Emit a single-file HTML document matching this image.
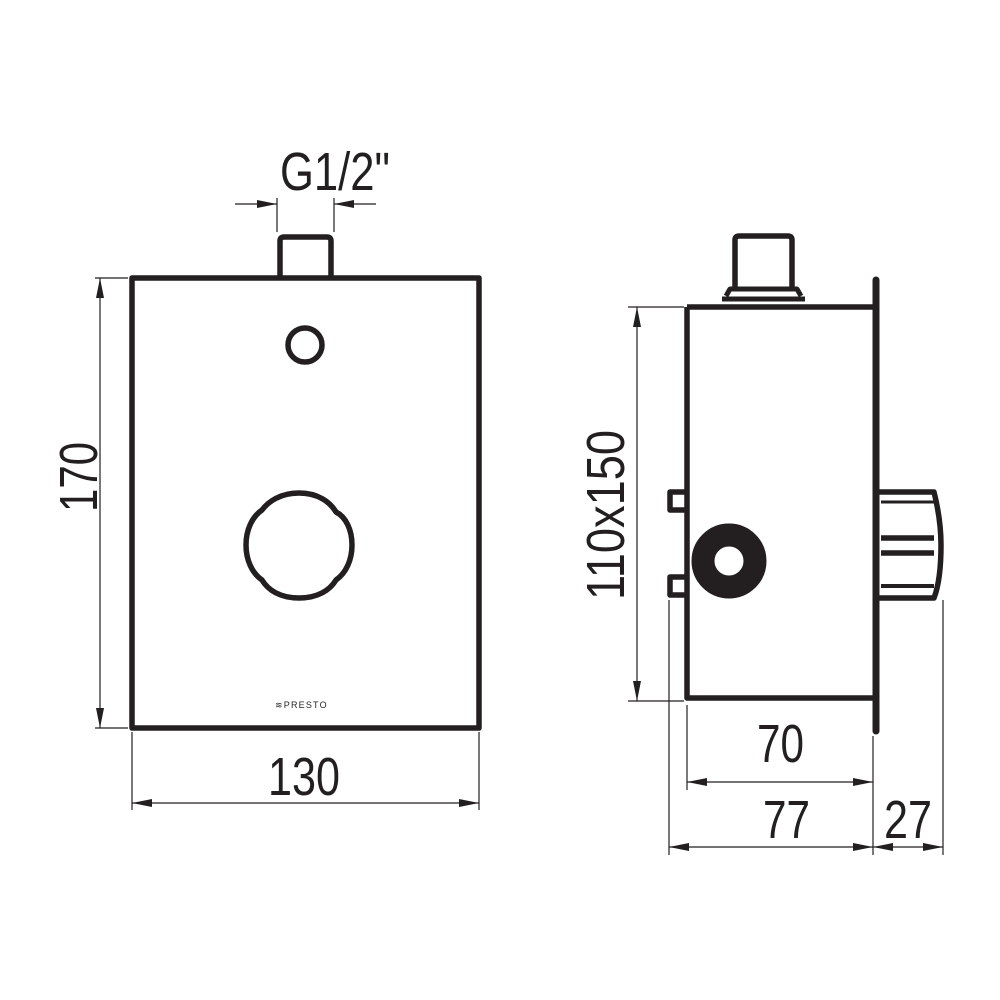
<!DOCTYPE html>
<html><head><meta charset="utf-8"><style>html,body{margin:0;padding:0;background:#fff}svg{display:block}</style></head>
<body>
<svg width="1000" height="1000" viewBox="0 0 1000 1000" xmlns="http://www.w3.org/2000/svg">
<defs>
<marker id="a" viewBox="0 0 20 8" refX="20" refY="4" markerWidth="20" markerHeight="8" markerUnits="userSpaceOnUse" orient="auto-start-reverse"><path d="M0,0 L20,4 L0,8 Z" fill="#231f20"/></marker>
</defs>
<g font-family="'Liberation Sans', sans-serif" font-size="54" fill="#231f20">
<text x="280" y="190" textLength="110" lengthAdjust="spacingAndGlyphs">G1/2"</text>
<text x="268" y="795" textLength="72" lengthAdjust="spacingAndGlyphs">130</text>
<text x="757" y="762" textLength="47" lengthAdjust="spacingAndGlyphs">70</text>
<text x="763" y="838" textLength="47" lengthAdjust="spacingAndGlyphs">77</text>
<text x="884" y="838" textLength="48" lengthAdjust="spacingAndGlyphs">27</text>
<text transform="translate(97,512) rotate(-90)" textLength="70" lengthAdjust="spacingAndGlyphs">170</text>
<text transform="translate(624,600) rotate(-90)" textLength="170" lengthAdjust="spacingAndGlyphs">110x150</text>
</g>
<g stroke="#231f20" stroke-width="1.2" fill="none">
<!-- G1/2 dim -->
<line x1="277" y1="198" x2="277" y2="232"/><line x1="334" y1="198" x2="334" y2="232"/>
<line x1="235" y1="204" x2="277" y2="204" marker-end="url(#a)"/>
<line x1="376" y1="204" x2="334" y2="204" marker-end="url(#a)"/>
<!-- 170 -->
<line x1="95" y1="278" x2="128" y2="278"/><line x1="95" y1="728" x2="128" y2="728"/>
<line x1="100" y1="278" x2="100" y2="728" marker-start="url(#a)" marker-end="url(#a)"/>
<!-- 130 -->
<line x1="132" y1="732" x2="132" y2="810"/><line x1="479" y1="732" x2="479" y2="810"/>
<line x1="132" y1="803" x2="479" y2="803" marker-start="url(#a)" marker-end="url(#a)"/>
<!-- 110x150 -->
<line x1="628" y1="307" x2="684" y2="307"/><line x1="628" y1="701" x2="684" y2="701"/>
<line x1="637" y1="307" x2="637" y2="701" marker-start="url(#a)" marker-end="url(#a)"/>
<!-- side extension -->
<line x1="669" y1="600" x2="669" y2="855"/>
<line x1="687" y1="705" x2="687" y2="790"/>
<line x1="873" y1="736" x2="873" y2="855"/>
<line x1="943" y1="600" x2="943" y2="855"/>
<line x1="687" y1="782" x2="873" y2="782" marker-start="url(#a)" marker-end="url(#a)"/>
<line x1="669" y1="847" x2="873" y2="847" marker-start="url(#a)" marker-end="url(#a)"/>
<line x1="873" y1="847" x2="943" y2="847" marker-start="url(#a)" marker-end="url(#a)"/>
</g>
<g stroke="#231f20" stroke-width="5.5" fill="none" stroke-linejoin="round">
<!-- front -->
<rect x="132" y="278" width="347" height="450"/>
<path d="M280,278 V241 Q280,237 284,237 H327 Q331,237 331,241 V278"/>
<circle cx="305" cy="345" r="17"/>
<path d="M299,493 C318,493 330,502 336,512 C346,517 352,530 352,545 C352,560 346,573 336,580 C330,590 318,598 299,598 C280,598 268,590 262,580 C252,573 246,560 246,545 C246,530 252,517 262,510 C268,502 280,493 299,493 Z"/>
<!-- side -->
<path d="M687,307 H873 M687,307 V698 H873"/>
<path d="M735,287 V240 Q735,236 739,236 H788 Q792,236 792,240 V287"/>
<path d="M726,296 L730,289 H797 L801,296" stroke-width="5"/>
<line x1="722" y1="299" x2="805" y2="299" stroke-width="5"/>
<line x1="876" y1="280" x2="876" y2="731" stroke-width="7" stroke-linecap="round"/>
<path d="M879,492 H934 Q941,520 941,545 Q941,580 934,598 H879" />
<line x1="881" y1="538" x2="934" y2="538"/><line x1="881" y1="553" x2="934" y2="553"/>
<line x1="881" y1="586" x2="934" y2="586" stroke-width="4"/>
<line x1="881" y1="502" x2="934" y2="502" stroke-width="3"/>
<path d="M686,492 H670 V510 H686"/>
<path d="M686,577 H670 V595 H686"/>
</g>
<circle cx="729" cy="561" r="26" stroke="#231f20" stroke-width="23" fill="none"/>
<g font-family="'Liberation Sans', sans-serif" font-size="10" fill="#231f20">
<text x="275" y="708" font-size="9" letter-spacing="1.2">≋PRESTO</text>
</g>
</svg>
</body></html>
